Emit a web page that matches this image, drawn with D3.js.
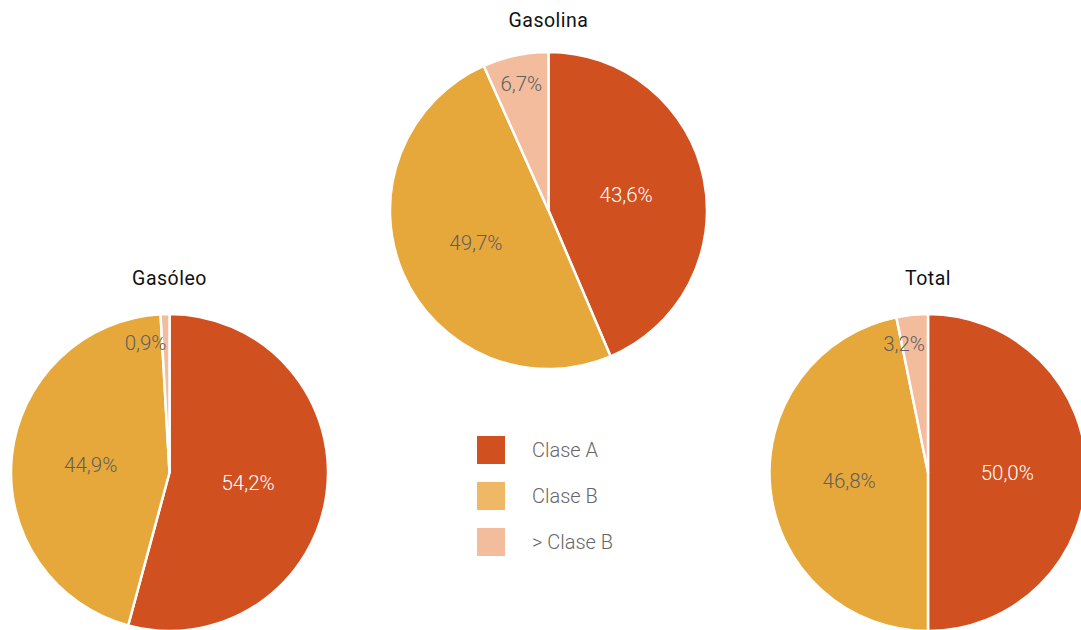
<!DOCTYPE html>
<html>
<head>
<meta charset="utf-8">
<script src="https://cdn.jsdelivr.net/npm/d3@7/dist/d3.min.js"></script>
<style>
  html, body { margin: 0; padding: 0; background: #ffffff; }
  svg { display: block; }
</style>
</head>
<body>
<svg id="chart" width="1081" height="630"></svg>
<script>
// Share of sales by class, per fuel type
const categories = ["Clase A", "Clase B", "> Clase B"];
const chartTitles = ["Gasolina", "Gasóleo", "Total"];
const gasolinaValues = [43.6, 49.7, 6.7];
const gasoleoValues = [54.2, 44.9, 0.9];
const totalValues = [50.0, 46.8, 3.2];

const sliceColors = ["#D05020", "#E7A83B", "#F3BC9C"];
const legendColors = ["#D05020", "#EFB866", "#F3BC9C"];
const labelColors = ["#ffffff", "#5f5f5f", "#5f5f5f"];

const svg = d3.select("#chart");
const radius = 158.5;
const FONT = "Roboto, 'Noto Sans', sans-serif";

const fmt = v => d3.format(".1f")(v).replace(".", ",") + "%";

const pies = [
  { title: chartTitles[0], values: gasolinaValues, cx: 548.5, cy: 210.5, ty: 20 },
  { title: chartTitles[1], values: gasoleoValues, cx: 169.5, cy: 472.5, ty: 278 },
  { title: chartTitles[2], values: totalValues, cx: 928, cy: 472.5, ty: 278 }
];

const pie = d3.pie().sort(null).value(d => d.value);
const arc = d3.arc().innerRadius(0).outerRadius(radius);

pies.forEach(p => {
  const data = categories.map((c, i) => ({ cat: c, value: p.values[i], idx: i }));
  const arcs = pie(data);
  const g = svg.append("g").attr("transform", `translate(${p.cx},${p.cy})`);

  g.selectAll("path.slice")
    .data(arcs)
    .join("path")
    .attr("class", "slice")
    .attr("d", arc)
    .attr("fill", d => sliceColors[d.data.idx])
    .attr("stroke", "#ffffff")
    .attr("stroke-width", 2.5)
    .attr("stroke-linejoin", "round");

  // Value labels: centroid for wide slices, pushed outwards for thin ones;
  // very thin slices get the label set to the left of their edge.
  g.selectAll("text.val")
    .data(arcs)
    .join("text")
    .attr("class", "val")
    .each(function(d) {
      const share = (d.endAngle - d.startAngle) / (2 * Math.PI);
      const a = (d.startAngle + d.endAngle) / 2;
      const r = share < 0.1 ? radius * 0.82 : radius * 0.5;
      let x = Math.sin(a) * r;
      const y = -Math.cos(a) * r;
      let anchor = "middle";
      if (share < 0.05) {
        x = Math.sin(d.endAngle) * r - 3;
        anchor = "end";
      }
      d3.select(this)
        .attr("x", x)
        .attr("y", y)
        .attr("text-anchor", anchor);
    })
    .attr("dy", "0.36em")
    .attr("font-family", FONT)
    .attr("font-weight", 300)
    .attr("font-size", 20.5)
    .attr("fill", d => labelColors[d.data.idx])
    .text(d => fmt(d.data.value));

  svg.append("text")
    .attr("x", p.cx)
    .attr("y", p.ty)
    .attr("text-anchor", "middle")
    .attr("dy", "0.36em")
    .attr("font-family", FONT)
    .attr("font-weight", 400)
    .attr("font-size", 19.5)
    .attr("letter-spacing", 0.5)
    .attr("fill", "#111111")
    .text(p.title);
});

// Legend
const legendY = d3.scaleBand().domain(categories).range([436, 574]);
const items = svg.append("g")
  .selectAll("g.item")
  .data(categories)
  .join("g")
  .attr("class", "item")
  .attr("transform", d => `translate(477,${Math.round(legendY(d))})`);

items.append("rect")
  .attr("width", 28)
  .attr("height", 28)
  .attr("fill", (d, i) => legendColors[i]);

items.append("text")
  .attr("x", 55)
  .attr("y", 14)
  .attr("dy", "0.36em")
  .attr("font-family", FONT)
  .attr("font-weight", 300)
  .attr("font-size", 20)
  .attr("fill", "#666666")
  .text(d => d);
</script>
</body>
</html>
